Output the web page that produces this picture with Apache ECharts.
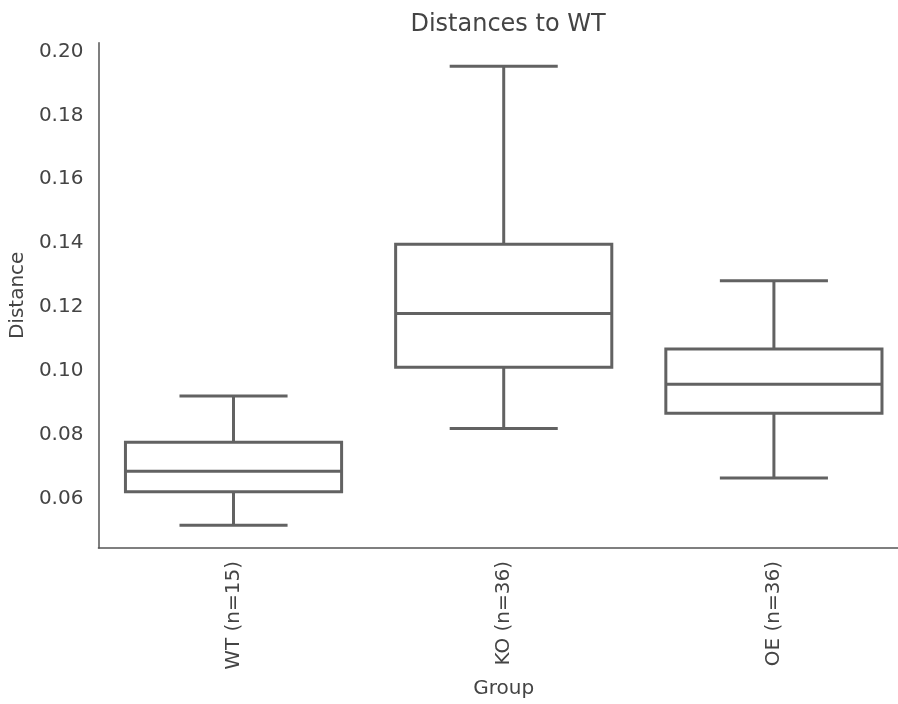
<!DOCTYPE html>
<html>
<head>
<meta charset="utf-8">
<script src="https://cdn.jsdelivr.net/npm/echarts@6/dist/echarts.min.js"></script>
<style>
  html, body { margin: 0; padding: 0; background: #fff; overflow: hidden; }
  /* the reference plot runs past the right edge of the picture */
  #chart { width: 909px; height: 704px; }
</style>
</head>
<body>
<div id="chart"></div>
<script>
// box plot stats
const categories = ['WT (n=15)', 'KO (n=36)', 'OE (n=36)'];
const whiskerLow = [0.0518, 0.0821, 0.0666];
const q1 = [0.0623, 0.1012, 0.0868];
const median = [0.0687, 0.1180, 0.0959];
const q3 = [0.0778, 0.1397, 0.1069];
const whiskerHigh = [0.0922, 0.1953, 0.1283];

const lineColor = '#626262';
const textColor = '#444444';
const fontFamily = 'DejaVu Sans';

const chart = echarts.init(document.getElementById('chart'));

const boxData = categories.map(function (c, i) {
  return [i, whiskerLow[i], q1[i], median[i], q3[i], whiskerHigh[i]];
});

function renderBox(params, api) {
  const idx = api.value(0);
  const band = api.size([1, 0])[0];
  const boxW = band * 0.8;
  const capW = band * 0.4;
  const pLow = api.coord([idx, api.value(1)]);
  const pQ1 = api.coord([idx, api.value(2)]);
  const pMed = api.coord([idx, api.value(3)]);
  const pQ3 = api.coord([idx, api.value(4)]);
  const pHigh = api.coord([idx, api.value(5)]);
  const cx = pMed[0];
  const style = { stroke: lineColor, lineWidth: 3, fill: null };
  return {
    type: 'group',
    children: [
      { type: 'line', shape: { x1: cx, y1: pQ3[1], x2: cx, y2: pHigh[1] }, style: style },
      { type: 'line', shape: { x1: cx, y1: pQ1[1], x2: cx, y2: pLow[1] }, style: style },
      { type: 'line', shape: { x1: cx - capW / 2, y1: pHigh[1], x2: cx + capW / 2, y2: pHigh[1] }, style: style },
      { type: 'line', shape: { x1: cx - capW / 2, y1: pLow[1], x2: cx + capW / 2, y2: pLow[1] }, style: style },
      {
        type: 'rect',
        shape: { x: cx - boxW / 2, y: pQ3[1], width: boxW, height: pQ1[1] - pQ3[1] },
        style: { stroke: lineColor, lineWidth: 3, fill: '#ffffff' }
      },
      { type: 'line', shape: { x1: cx - boxW / 2, y1: pMed[1], x2: cx + boxW / 2, y2: pMed[1] }, style: style }
    ]
  };
}

const option = {
  backgroundColor: '#ffffff',
  animation: false,
  title: {
    text: 'Distances to WT',
    left: 503,
    top: 8,
    textAlign: 'center',
    textStyle: { color: textColor, fontFamily: fontFamily, fontSize: 24, fontWeight: 'normal' }
  },
  grid: { left: 97.5, right: 0, top: 42.7, bottom: 151.7 },
  xAxis: {
    type: 'category',
    data: categories,
    name: 'Group',
    nameLocation: 'middle',
    nameGap: 131,
    nameTextStyle: { color: textColor, fontFamily: fontFamily, fontSize: 20 },
    axisLine: { lineStyle: { color: '#555555', width: 1.5 } },
    axisTick: { show: false },
    axisLabel: { rotate: 90, margin: 13, color: textColor, fontFamily: fontFamily, fontSize: 20 },
    splitLine: { show: false }
  },
  yAxis: {
    type: 'value',
    min: 0.0447,
    max: 0.2027,
    splitNumber: 8,
    name: 'Distance',
    nameLocation: 'middle',
    nameGap: 67,
    nameTextStyle: { color: textColor, fontFamily: fontFamily, fontSize: 20 },
    axisLine: { show: true, lineStyle: { color: '#555555', width: 1.5 } },
    axisTick: { show: false },
    axisLabel: {
      margin: 15,
      color: textColor,
      fontFamily: fontFamily,
      fontSize: 20,
      showMinLabel: false,
      showMaxLabel: false,
      formatter: function (v) { return v.toFixed(2); }
    },
    splitLine: { show: false }
  },
  series: [{
    type: 'custom',
    renderItem: renderBox,
    encode: { x: 0, y: [1, 2, 3, 4, 5] },
    data: boxData
  }]
};

chart.setOption(option);
</script>
</body>
</html>
